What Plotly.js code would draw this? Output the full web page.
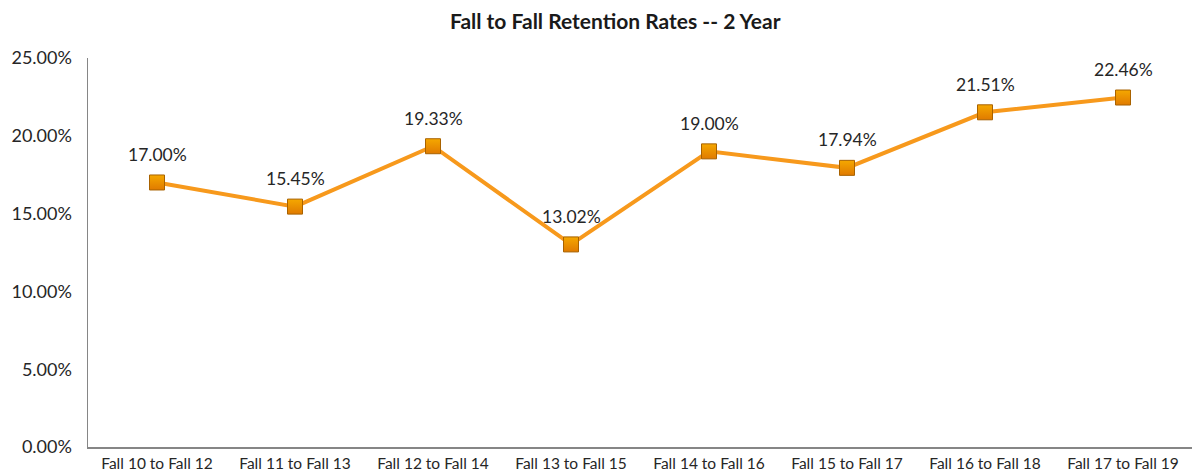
<!DOCTYPE html>
<html><head><meta charset="utf-8">
<script src="https://cdn.plot.ly/plotly-3.0.1.min.js"></script>
<style>html,body{margin:0;padding:0;background:#fff}#chart{width:1204px;height:476px}</style>
</head><body><div id="chart"></div>
<script>
const categories = ["Fall 10 to Fall 12","Fall 11 to Fall 13","Fall 12 to Fall 14","Fall 13 to Fall 15","Fall 14 to Fall 16","Fall 15 to Fall 17","Fall 16 to Fall 18","Fall 17 to Fall 19"];
const retention = [0.1700,0.1545,0.1933,0.1302,0.1900,0.1794,0.2151,0.2246];
const yTicks = [0,0.05,0.10,0.15,0.20,0.25];

const font = "Lato, 'Open Sans', sans-serif";
const trace = {
  x: categories, y: retention, type: 'scatter', mode: 'lines+markers',
  line: {color: '#F7991C', width: 4},
  marker: {symbol: 'square', size: 15, color: '#F5A800',
           gradient: {type: 'vertical', color: '#E07A00'},
           line: {color: '#A86200', width: 1}},
  hoverinfo: 'skip'
};
const annotations = categories.map((c,i)=>({
  x: c, y: retention[i], text: (retention[i]*100).toFixed(2)+'%',
  showarrow: false, yshift: 28, font: {family: font, size: 17.5, color: '#262626'}
}));
const layout = {
  width: 1204, height: 476,
  margin: {l: 88, r: 12, t: 58, b: 29},
  paper_bgcolor: '#fff', plot_bgcolor: '#fff',
  title: {text: '<b>Fall to Fall Retention Rates -- 2 Year</b>', x: 0.511, xanchor: 'center', y: 0.955, yanchor: 'middle',
          font: {family: font, size: 21, color: '#1a1a1a'}},
  xaxis: {type: 'category', showgrid: false, showline: true, linecolor: '#868686', linewidth: 1.5,
          ticks: '', tickfont: {family: font, size: 15.5, color: '#262626'}, range: [-0.5, 7.5], ticklabelstandoff: 2},
  yaxis: {range: [0, 0.25], tickvals: yTicks, ticktext: yTicks.map(v=>(v*100).toFixed(2)+'%'),
          showgrid: false, zeroline: false, showline: true, linecolor: '#868686', linewidth: 1.5,
          ticks: '', ticklen: 0, tickfont: {family: font, size: 18, color: '#262626'}, ticklabelstandoff: 11},
  annotations: annotations,
  showlegend: false
};
Plotly.newPlot('chart', [trace], layout, {staticPlot: true});
</script></body></html>
